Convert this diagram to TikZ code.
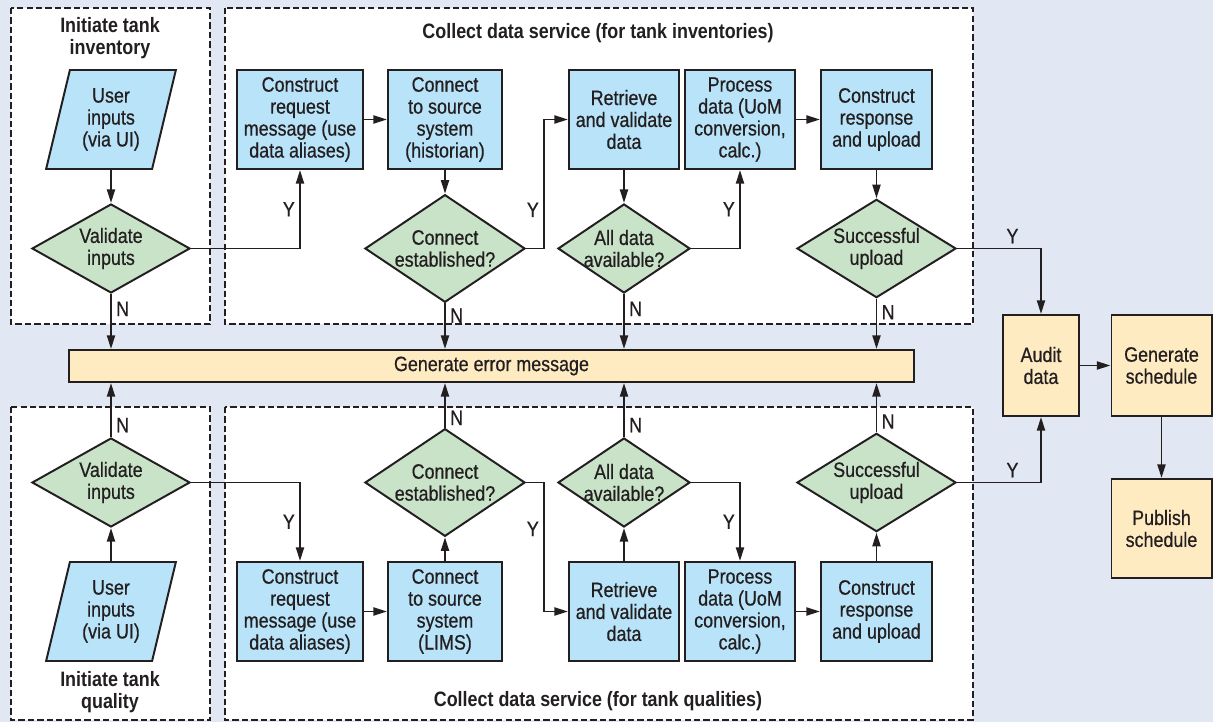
\documentclass[tikz,border=0pt]{standalone}
\usepackage{fontspec}
\setmainfont{Liberation Sans}[FakeStretch=0.86,UprightFeatures={FakeBold=0.6}]
\usepackage{tikz}
\usetikzlibrary{shapes.geometric,arrows.meta}
\definecolor{bgc}{HTML}{E1E8F3}
\definecolor{boxblue}{HTML}{B8E3F8}
\definecolor{decgreen}{HTML}{C9E3C9}
\definecolor{boxyel}{HTML}{FFEBC1}
\definecolor{linec}{HTML}{231F20}
\tikzset{
  txt/.style={font=\fontsize{14.8pt}{15.6pt}\selectfont,text=linec},
  blk/.style={rectangle,draw=linec,fill=boxblue,line width=1.4pt,align=center,txt,minimum height=2.475cm,inner sep=1pt},
  ylw/.style={rectangle,draw=linec,fill=boxyel,line width=1.4pt,align=center,txt,inner sep=1pt},
  dec/.style={diamond,draw=linec,fill=decgreen,line width=1.4pt,align=center,txt,minimum height=2.225cm,inner xsep=-6.5pt,inner ysep=-4pt},
  io/.style={trapezium,trapezium left angle=75,trapezium right angle=105,trapezium stretches=true,draw=linec,fill=boxblue,line width=1.4pt,align=center,txt,minimum width=3.25cm,minimum height=2.475cm,inner sep=1pt},
  frm/.style={draw=linec,fill=white,line width=1.5pt,dash pattern=on 4.5pt off 2.2pt},
  ttl/.style={align=center,txt,font=\fontsize{14.8pt}{15.6pt}\selectfont\bfseries},
  yn/.style={txt,inner sep=3pt}
}

\begin{document}
\begin{tikzpicture}[x=0.025cm,y=-0.025cm,>={Triangle[length=3.4mm,width=2mm]},line width=1.4pt,draw=linec]
    \useasboundingbox (0,0) rectangle (1213,722);
    \fill[bgc] (0,0) rectangle (1213,722);
    \draw[frm] (11,8) rectangle (210,324);
    \draw[frm] (225,8) rectangle (973,324);
    \draw[frm] (11,407) rectangle (210,720);
    \draw[frm] (225,407) rectangle (973,720);

    \node[ttl] (t1) at (110,38) {Initiate tank\\inventory};
    \node[ttl] (t2) at (598,33) {Collect data service (for tank inventories)};
    \node[ttl] (t3) at (110,692) {Initiate tank\\quality};
    \node[ttl] (t4) at (598,701) {Collect data service (for tank qualities)};

    \node[io] (ui1) at (111,119.5) {User\\inputs\\(via UI)};
    \node[dec,minimum width=3.95cm] (val1) at (111,248.5) {Validate\\inputs};
    \node[blk,minimum width=3.15cm] (creq1) at (300,119.5) {Construct\\request\\message (use\\data aliases)};
    \node[blk,minimum width=2.85cm] (conn1) at (445,119.5) {Connect\\to source\\system\\(historian)};
    \node[dec,minimum width=4cm] (cd1) at (445,248.5) {Connect\\established?};
    \node[blk,minimum width=2.75cm] (retr1) at (624,119.5) {Retrieve\\and validate\\data};
    \node[dec,minimum width=3.3cm] (ad1) at (624,248.5) {All data\\available?};
    \node[blk,minimum width=2.75cm] (proc1) at (740,119.5) {Process\\data (UoM\\conversion,\\calc.)};
    \node[blk,minimum width=2.775cm] (cres1) at (876.5,119.5) {Construct\\response\\and upload};
    \node[dec,minimum width=3.975cm] (sd1) at (876.5,248.5) {Successful\\upload};

    \node[ylw,minimum width=21.125cm,minimum height=0.8cm] (err) at (491.5,366) {Generate error message};

    \node[io] (ui2) at (111,611.5) {User\\inputs\\(via UI)};
    \node[dec,minimum width=3.95cm] (val2) at (111,482.5) {Validate\\inputs};
    \node[blk,minimum width=3.15cm] (creq2) at (300,611.5) {Construct\\request\\message (use\\data aliases)};
    \node[blk,minimum width=2.85cm] (conn2) at (445,611.5) {Connect\\to source\\system\\(LIMS)};
    \node[dec,minimum width=4cm] (cd2) at (445,482.5) {Connect\\established?};
    \node[blk,minimum width=2.75cm] (retr2) at (624,611.5) {Retrieve\\and validate\\data};
    \node[dec,minimum width=3.3cm] (ad2) at (624,482.5) {All data\\available?};
    \node[blk,minimum width=2.75cm] (proc2) at (740,611.5) {Process\\data (UoM\\conversion,\\calc.)};
    \node[blk,minimum width=2.775cm] (cres2) at (876.5,611.5) {Construct\\response\\and upload};
    \node[dec,minimum width=3.975cm] (sd2) at (876.5,482.5) {Successful\\upload};

    \node[ylw,minimum width=1.9cm,minimum height=2.525cm] (audit) at (1041,365.5) {Audit\\data};
    \node[ylw,minimum width=2.5cm,minimum height=2.525cm] (gen) at (1161.5,365.5) {Generate\\schedule};
    \node[ylw,minimum width=2.5cm,minimum height=2.475cm] (pub) at (1161.5,528.5) {Publish\\schedule};

    \draw [->] (ui1) -- (val1);
    \draw [->] (val1.east) -| node[yn,pos=0.75,left]{Y} (creq1);
    \draw [->] (creq1) -- (conn1);
    \draw [->] (conn1) -- (cd1);
    \draw [->] (cd1.east) -- ++(18,0) |- node[yn,pos=0.15,left]{Y} (retr1);
    \draw [->] (retr1) -- (ad1);
    \draw [->] (ad1.east) -| node[yn,pos=0.75,left]{Y} (proc1);
    \draw [->] (proc1) -- (cres1);
    \draw [->] (cres1) -- (sd1);
    \draw [->] (sd1.east) -| node[yn,pos=0.33,above]{Y} (audit);
    \draw [->] (val1.south) -- node[yn,pos=0.27,right]{N} (val1.south |- err.north);
    \draw [->] (cd1.south) -- node[yn,pos=0.27,right]{N} (cd1.south |- err.north);
    \draw [->] (ad1.south) -- node[yn,pos=0.27,right]{N} (ad1.south |- err.north);
    \draw [->] (sd1.south) -- node[yn,pos=0.27,right]{N} (sd1.south |- err.north);

    \draw [->] (ui2) -- (val2);
    \draw [->] (val2.east) -| node[yn,pos=0.75,left]{Y} (creq2);
    \draw [->] (creq2) -- (conn2);
    \draw [->] (conn2) -- (cd2);
    \draw [->] (cd2.east) -- ++(18,0) |- node[yn,pos=0.18,left]{Y} (retr2);
    \draw [->] (retr2) -- (ad2);
    \draw [->] (ad2.east) -| node[yn,pos=0.75,left]{Y} (proc2);
    \draw [->] (proc2) -- (cres2);
    \draw [->] (cres2) -- (sd2);
    \draw [->] (sd2.east) -| node[yn,pos=0.33,above]{Y} (audit);
    \draw [->] (val2.north) -- node[yn,pos=0.22,right]{N} (val2.north |- err.south);
    \draw [->] (cd2.north) -- node[yn,pos=0.22,right]{N} (cd2.north |- err.south);
    \draw [->] (ad2.north) -- node[yn,pos=0.22,right]{N} (ad2.north |- err.south);
    \draw [->] (sd2.north) -- node[yn,pos=0.22,right]{N} (sd2.north |- err.south);

    \draw [->] (audit) -- (gen);
    \draw [->] (gen) -- (pub);
\end{tikzpicture}
\end{document}
